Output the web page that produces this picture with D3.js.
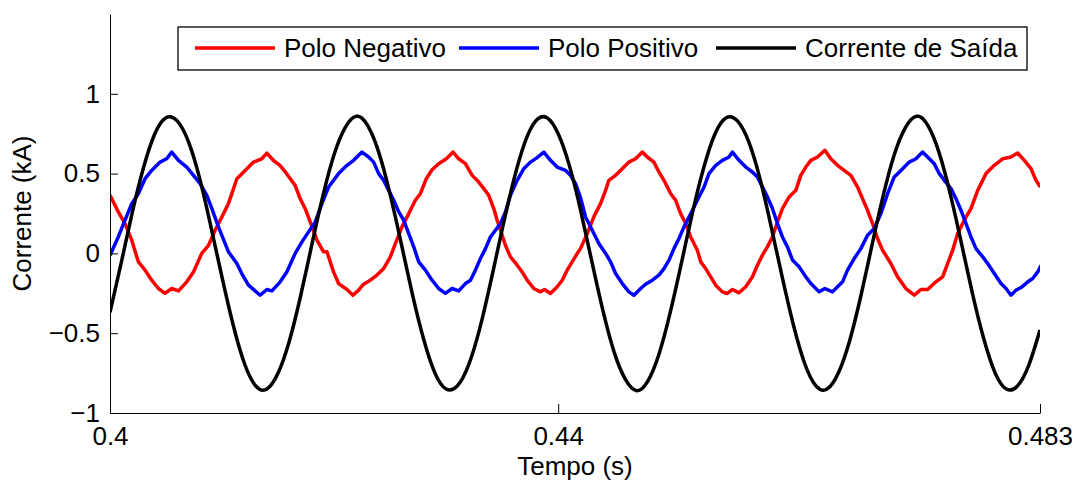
<!DOCTYPE html>
<html>
<head>
<meta charset="utf-8">
<script src="https://cdn.jsdelivr.net/npm/d3@7"></script>
<style>
  body { margin: 0; background: #fff; }
  svg text { font-family: "Liberation Sans", Arial, sans-serif; fill: #000; }
</style>
</head>
<body>
<svg width="1077" height="482"></svg>
<script>
  // legend / series names
  const seriesNames = ["Polo Negativo", "Polo Positivo", "Corrente de Saída"];

  // Polo Negativo (red), time [s] and current [kA]
  const tempoNeg = [0.40000,0.40074,0.40134,0.40194,0.40253,0.40313,0.40372,0.40432,0.40491,0.40551,0.40611,0.40685,0.40745,0.40819,0.40879,0.40938,0.40998,0.41057,0.41132,0.41206,0.41281,0.41355,0.41400,0.41459,0.41519,0.41578,0.41653,0.41698,0.41742,0.41787,0.41847,0.41906,0.41936,0.41995,0.42040,
    0.42115,0.42168,0.42219,0.42263,0.42323,0.42383,0.42442,0.42502,0.42547,0.42606,0.42666,0.42725,0.42770,0.42823,0.42874,0.42933,0.43002,0.43062,0.43112,0.43172,0.43232,0.43291,0.43336,0.43380,0.43425,0.43455,0.43485,0.43529,0.43574,0.43634,0.43678,0.43723,0.43782,0.43842,0.43878,0.43931,0.43991,0.44036,0.44080,0.44125,0.44170,0.44199,
    0.44259,0.44318,0.44378,0.44423,0.44452,0.44512,0.44572,0.44631,0.44691,0.44751,0.44795,0.44854,0.44899,0.44944,0.45004,0.45048,0.45093,0.45138,0.45182,0.45242,0.45272,0.45316,0.45361,0.45406,0.45465,0.45510,0.45555,0.45614,0.45674,0.45733,0.45778,0.45823,0.45867,0.45912,0.45957,0.46001,0.46061,0.46121,0.46165,0.46210,
    0.46255,0.46314,0.46380,0.46433,0.46493,0.46552,0.46612,0.46672,0.46716,0.46761,0.46806,0.46850,0.46895,0.46969,0.47029,0.47103,0.47178,0.47237,0.47297,0.47371,0.47431,0.47476,0.47521,0.47565,0.47624,0.47684,0.47744,0.47818,0.47892,0.47967,0.48041,0.48101,0.48160,0.48220,0.48264,0.48303];
  const poloNegativo = [0.364,0.26,0.187,0.083,-0.053,-0.105,-0.168,-0.22,-0.251,-0.22,-0.235,-0.178,-0.116,0.0,0.05,0.145,0.228,0.312,0.468,0.52,0.572,0.593,0.628,0.582,0.55,0.498,0.425,0.342,0.28,0.197,0.083,0.01,0.01,-0.116,-0.189,
    -0.226,-0.262,-0.23,-0.193,-0.168,-0.136,-0.095,-0.022,0.062,0.166,0.249,0.333,0.374,0.468,0.524,0.562,0.593,0.635,0.593,0.562,0.489,0.447,0.406,0.364,0.281,0.208,0.145,0.051,-0.022,-0.074,-0.116,-0.168,-0.22,-0.241,-0.226,-0.251,-0.209,-0.168,-0.105,-0.053,0.0,0.03,
    0.124,0.229,0.312,0.395,0.458,0.489,0.531,0.572,0.593,0.635,0.604,0.572,0.51,0.458,0.374,0.333,0.249,0.187,0.103,0.02,-0.053,-0.095,-0.147,-0.199,-0.241,-0.251,-0.226,-0.247,-0.209,-0.147,-0.074,-0.011,0.041,0.103,0.197,0.281,0.354,0.395,0.489,0.541,
    0.583,0.604,0.646,0.593,0.552,0.52,0.489,0.416,0.343,0.27,0.187,0.093,0.02,-0.063,-0.147,-0.22,-0.262,-0.226,-0.226,-0.178,-0.147,-0.063,0.02,0.124,0.208,0.281,0.395,0.5,0.552,0.593,0.604,0.629,0.583,0.531,0.458,0.416];

  // Polo Positivo (blue)
  const tempoPos = [0.40000,0.40074,0.40134,0.40194,0.40253,0.40313,0.40372,0.40447,0.40506,0.40551,0.40611,0.40685,0.40745,0.40804,0.40864,0.40909,0.40968,0.41057,0.41132,0.41176,0.41236,0.41340,0.41400,0.41445,0.41519,0.41578,0.41653,0.41713,0.41772,0.41832,0.41891,0.41951,0.42040,
    0.42115,0.42174,0.42249,0.42308,0.42353,0.42398,0.42442,0.42487,0.42532,0.42577,0.42621,0.42666,0.42711,0.42755,0.42815,0.42874,0.42933,0.42993,0.43053,0.43112,0.43172,0.43217,0.43261,0.43306,0.43351,0.43395,0.43440,0.43485,0.43529,0.43574,0.43634,0.43693,0.43753,0.43812,0.43872,0.43931,0.43991,0.44066,0.44110,0.44155,0.44199,
    0.44244,0.44304,0.44363,0.44423,0.44468,0.44512,0.44572,0.44631,0.44676,0.44736,0.44780,0.44840,0.44899,0.44944,0.44989,0.45033,0.45078,0.45123,0.45182,0.45242,0.45302,0.45346,0.45406,0.45465,0.45525,0.45555,0.45614,0.45674,0.45733,0.45778,0.45823,0.45867,0.45912,0.45957,0.46001,0.46046,0.46091,0.46150,0.46210,
    0.46255,0.46329,0.46380,0.46448,0.46493,0.46538,0.46582,0.46642,0.46701,0.46761,0.46821,0.46880,0.46940,0.46999,0.47059,0.47133,0.47193,0.47252,0.47312,0.47356,0.47401,0.47446,0.47506,0.47550,0.47595,0.47640,0.47684,0.47729,0.47789,0.47833,0.47892,0.47952,0.47997,0.48041,0.48086,0.48131,0.48191,0.48235,0.48280,0.48310];
  const poloPositivo = [-0.011,0.103,0.208,0.312,0.374,0.468,0.52,0.572,0.593,0.635,0.583,0.541,0.489,0.437,0.364,0.281,0.166,0.01,-0.063,-0.126,-0.199,-0.262,-0.226,-0.235,-0.178,-0.116,0.0,0.072,0.135,0.197,0.312,0.416,0.5,
    0.552,0.583,0.635,0.604,0.572,0.5,0.458,0.395,0.333,0.26,0.208,0.124,0.041,-0.053,-0.105,-0.168,-0.22,-0.251,-0.22,-0.235,-0.189,-0.168,-0.105,-0.032,0.03,0.103,0.145,0.187,0.26,0.364,0.458,0.531,0.572,0.6,0.635,0.583,0.541,0.52,0.489,0.437,0.35,
    0.228,0.145,0.062,0.0,-0.053,-0.126,-0.189,-0.241,-0.262,-0.22,-0.193,-0.168,-0.136,-0.095,-0.042,0.03,0.093,0.166,0.249,0.333,0.416,0.5,0.552,0.583,0.604,0.635,0.583,0.541,0.51,0.479,0.416,0.354,0.281,0.187,0.103,0.041,-0.042,-0.084,-0.147,
    -0.189,-0.241,-0.22,-0.241,-0.209,-0.178,-0.105,-0.032,0.03,0.114,0.156,0.249,0.374,0.479,0.52,0.572,0.593,0.635,0.593,0.562,0.5,0.458,0.406,0.343,0.27,0.187,0.103,0.03,-0.022,-0.063,-0.126,-0.189,-0.22,-0.262,-0.23,-0.214,-0.178,-0.157,-0.116,-0.074];

  // Corrente de Saída (black), sampled every 1 ms
  const tempoSaida = [0.400,0.401,0.402,0.403,0.404,0.405,0.406,0.407,0.408,0.409,0.410,0.411,0.412,0.413,0.414,0.415,0.416,0.417,0.418,0.419,0.420,
    0.421,0.422,0.423,0.424,0.425,0.426,0.427,0.428,0.429,0.430,0.431,0.432,0.433,0.434,0.435,0.436,0.437,0.438,0.439,0.440,0.441,
    0.442,0.443,0.444,0.445,0.446,0.447,0.448,0.449,0.450,0.451,0.452,0.453,0.454,0.455,0.456,0.457,0.458,0.459,0.460,0.461,0.462,
    0.463,0.464,0.465,0.466,0.467,0.468,0.469,0.470,0.471,0.472,0.473,0.474,0.475,0.476,0.477,0.478,0.479,0.480,0.481,0.482,0.483];
  const correnteSaida = [-0.37,-0.06,0.26,0.54,0.75,0.85,0.83,0.70,0.47,0.17,-0.15,-0.45,-0.69,-0.83,-0.85,-0.75,-0.55,-0.27,0.05,0.36,0.62,
    0.79,0.86,0.80,0.63,0.37,0.06,-0.26,-0.54,-0.75,-0.85,-0.83,-0.70,-0.47,-0.17,0.15,0.45,0.69,0.83,0.85,0.75,0.55,
    0.27,-0.05,-0.36,-0.62,-0.79,-0.86,-0.80,-0.63,-0.37,-0.06,0.26,0.54,0.75,0.85,0.83,0.70,0.47,0.17,-0.15,-0.45,-0.69,
    -0.83,-0.85,-0.75,-0.55,-0.27,0.05,0.36,0.62,0.79,0.86,0.80,0.63,0.37,0.06,-0.26,-0.54,-0.75,-0.85,-0.83,-0.70,-0.48];

  // axis ticks
  const xTicks = [0.4, 0.44, 0.483];
  const xTickLabels = ["0.4", "0.44", "0.483"];
  const yTicks = [-1, -0.5, 0, 0.5, 1];
  const yTickLabels = ["\u22121", "\u22120.5", "0", "0.5", "1"];

  const svg = d3.select("svg"),
        margin = {top: 14, right: 37, bottom: 69, left: 110},
        width = +svg.attr("width"),
        height = +svg.attr("height");

  const x = d3.scaleLinear().domain([0.4, 0.483]).range([margin.left, width - margin.right]);
  const y = d3.scaleLinear().domain([-1, 1.5]).range([height - margin.bottom, margin.top]);

  svg.append("defs").append("clipPath").attr("id", "clip")
    .append("rect")
    .attr("x", margin.left).attr("y", margin.top)
    .attr("width", x.range()[1] - margin.left)
    .attr("height", y.range()[0] - margin.top);

  const series = [
    {name: seriesNames[0], t: tempoNeg, v: poloNegativo, color: "#ff0000", curve: d3.curveLinear},
    {name: seriesNames[1], t: tempoPos, v: poloPositivo, color: "#0000ff", curve: d3.curveLinear},
    {name: seriesNames[2], t: tempoSaida, v: correnteSaida, color: "#000000", curve: d3.curveNatural}
  ];

  const plot = svg.append("g").attr("clip-path", "url(#clip)");
  series.forEach(s => {
    const line = d3.line()
      .x((d, i) => x(s.t[i]))
      .y(d => y(d))
      .curve(s.curve);
    plot.append("path")
      .attr("d", line(s.v))
      .attr("fill", "none")
      .attr("stroke", s.color)
      .attr("stroke-width", 3.5)
      .attr("stroke-linejoin", "round");
  });

  // axes, ticks pointing inward
  const xAxis = svg.append("g")
    .attr("transform", `translate(0,${y.range()[0]})`)
    .call(d3.axisBottom(x).tickValues(xTicks)
      .tickFormat((d, i) => xTickLabels[i])
      .tickSizeInner(-9).tickSizeOuter(0).tickPadding(14));

  const yAxis = svg.append("g")
    .attr("transform", `translate(${margin.left},0)`)
    .call(d3.axisLeft(y).tickValues(yTicks)
      .tickFormat((d, i) => yTickLabels[i])
      .tickSizeInner(-8).tickSizeOuter(0).tickPadding(10));

  [xAxis, yAxis].forEach(g => {
    g.select(".domain").attr("stroke", "#000").attr("stroke-width", 1);
    g.selectAll(".tick line").attr("stroke", "#000").attr("stroke-width", 1);
    g.selectAll("text").attr("font-size", 26).attr("font-family", null).attr("fill", "#000");
  });

  // axis labels
  svg.append("text")
    .attr("x", (x.range()[0] + x.range()[1]) / 2)
    .attr("y", 475)
    .attr("text-anchor", "middle")
    .attr("font-size", 26)
    .text("Tempo (s)");

  svg.append("text")
    .attr("transform", `translate(31,${(y.range()[0] + y.range()[1]) / 2}) rotate(-90)`)
    .attr("text-anchor", "middle")
    .attr("font-size", 26)
    .text("Corrente (kA)");

  // legend
  const legend = svg.append("g");
  legend.append("rect")
    .attr("x", 178).attr("y", 27)
    .attr("width", 849).attr("height", 43)
    .attr("fill", "#fff").attr("stroke", "#000").attr("stroke-width", 1.3);

  const legendX = [195, 459, 716];
  series.forEach((s, i) => {
    legend.append("line")
      .attr("x1", legendX[i]).attr("x2", legendX[i] + 80)
      .attr("y1", 48).attr("y2", 48)
      .attr("stroke", s.color).attr("stroke-width", 3.5);
    legend.append("text")
      .attr("x", legendX[i] + 89)
      .attr("y", 57)
      .attr("font-size", 26)
      .text(s.name);
  });
</script>
</body>
</html>
